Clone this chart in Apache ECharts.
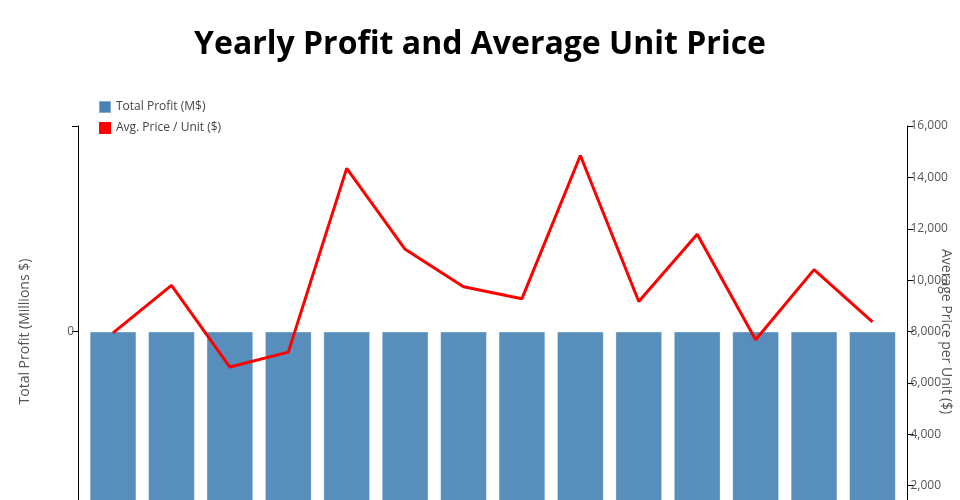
<!DOCTYPE html>
<html>
<head>
<meta charset="utf-8">
<script src="https://cdn.jsdelivr.net/npm/echarts@6/dist/echarts.min.js"></script>
<style>html,body{margin:0;padding:0;background:#fff}#c{width:960px;height:500px}</style>
</head>
<body>
<div id="c"></div>
<script>
const years = ['2010','2011','2012','2013','2014','2015','2016','2017','2018','2019','2020','2021','2022','2023'];
const totalProfit = [-10,-10,-10,-10,-10,-10,-10,-10,-10,-10,-10,-10,-10,-10];
const avgPrice = [7950,9800,6620,7200,14350,11200,9740,9280,14850,9170,11790,7680,10410,8380];
const priceTicks = { min: 0, max: 16000, interval: 2000 };
const profitTicks = { min: -10, max: 10, interval: 10 };

const FONT = "'Open Sans', sans-serif";
const chart = echarts.init(document.getElementById('c'), null, { renderer: 'canvas' });
const off = 5.84;
chart.setOption({
  animation: false,
  backgroundColor: '#fff',
  title: {
    text: 'Yearly Profit and Average Unit Price',
    left: 'center', top: 24,
    textStyle: { fontFamily: FONT, fontSize: 32, fontWeight: 'bold', color: '#000' }
  },
  legend: {
    orient: 'vertical', left: 98, top: 100, padding: 0, itemWidth: 12, itemHeight: 12, itemGap: 8,
    icon: 'rect',
    textStyle: { fontFamily: FONT, fontSize: 12, color: '#444' },
    data: [
      { name: 'Total Profit (M$)', itemStyle: { color: '#4682b4', opacity: 1 } },
      { name: 'Avg. Price / Unit ($)', itemStyle: { color: '#ff0000' } }
    ]
  },
  grid: { left: 78 + off, right: 960 - 907.5 + off, top: 126, bottom: -37.1, containLabel: false, outerBoundsMode: 'none' },
  xAxis: {
    type: 'category', data: years, boundaryGap: true, show: false
  },
  yAxis: [
    {
      type: 'value', position: 'left', offset: off,
      min: profitTicks.min, max: profitTicks.max, interval: profitTicks.interval,
      name: 'Total Profit (Millions $)', nameLocation: 'middle', nameGap: 46, nameRotate: 90,
      nameMoveOverlap: false,
      nameTextStyle: { fontFamily: FONT, fontSize: 14, color: '#555' },
      axisLine: { show: true, lineStyle: { color: '#000', width: 1 } },
      axisTick: { show: true, length: 6, lineStyle: { color: '#000' } },
      axisLabel: { fontFamily: FONT, fontSize: 12, color: '#555', margin: 4,
        formatter: v => v === 0 ? '0' : '' },
      splitLine: { show: false }
    },
    {
      type: 'value', position: 'right', offset: off,
      min: priceTicks.min, max: priceTicks.max, interval: priceTicks.interval,
      name: 'Average Price per Unit ($)', nameLocation: 'middle', nameGap: 31, nameRotate: -90,
      nameMoveOverlap: false,
      nameTextStyle: { fontFamily: FONT, fontSize: 14, color: '#555' },
      axisLine: { show: true, lineStyle: { color: '#000', width: 1 } },
      axisTick: { show: true, length: 6, lineStyle: { color: '#000' } },
      axisLabel: { fontFamily: FONT, fontSize: 12, color: '#555', margin: 3 },
      splitLine: { show: false }
    }
  ],
  series: [
    {
      name: 'Total Profit (M$)', type: 'bar', yAxisIndex: 0, data: totalProfit,
      barWidth: '80%',
      itemStyle: { color: '#4682b4', opacity: 0.9, borderColor: 'rgba(255,255,255,0.35)', borderWidth: 1 },
      z: 2
    },
    {
      name: 'Avg. Price / Unit ($)', type: 'line', yAxisIndex: 1, data: avgPrice,
      showSymbol: false, symbol: 'none',
      lineStyle: { color: '#ff0000', width: 3 }, itemStyle: { color: '#ff0000' },
      z: 3
    }
  ]
});
</script>
</body>
</html>
